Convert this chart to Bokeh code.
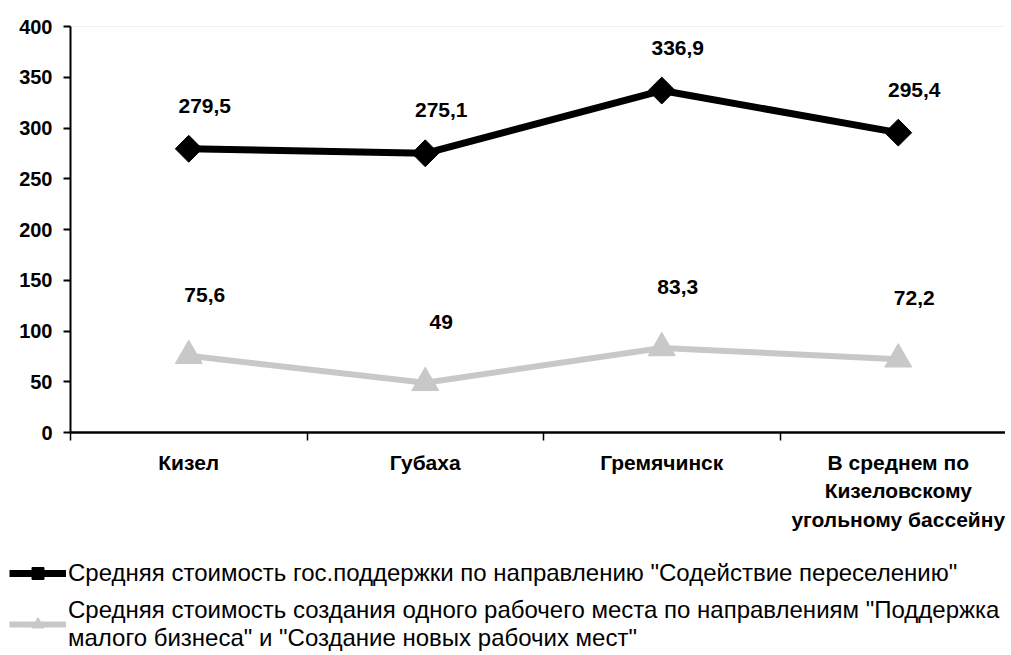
import math
from bokeh.plotting import figure
from bokeh.models import FixedTicker, Legend, LegendItem, ColumnDataSource, Range1d, BoxAnnotation
from bokeh.core.properties import value
from bokeh.embed import file_html
from bokeh.resources import INLINE

categories = ["Кизел", "Губаха", "Гремячинск", "В среднем по\nКизеловскому\nугольному бассейну"]
resettlement = [279.5, 275.1, 336.9, 295.4]
jobs = [75.6, 49.0, 83.3, 72.2]
series_names = [
    'Средняя стоимость гос.поддержки по направлению "Содействие переселению"',
    'Средняя стоимость создания одного рабочего места по направлениям "Поддержка\nмалого бизнеса" и "Создание новых рабочих мест"',
]
y_ticks = [0, 50, 100, 150, 200, 250, 300, 350, 400]
y_max = 400

xs = [i + 0.5 for i in range(len(categories))]
bounds = list(range(len(categories) + 1))


def fmt(v):
    return f"{v:g}".replace(".", ",")


FONT = "Liberation Sans"
BLACK = "#000000"
GRAY = "#c8c8c8"

# canvas / plot-area geometry in pixels
W, H = 1005, 653
AX_LEFT, AX_TOP, AX_BOTTOM = 70, 26, 432
CAT_W = 236.5
py = (AX_BOTTOM - AX_TOP) / y_max          # px per unit
x0 = -AX_LEFT / CAT_W
x1 = (W - AX_LEFT) / CAT_W
y1 = y_max + AX_TOP / py
y0 = -(H - AX_BOTTOM) / py

p = figure(width=W, height=H, x_range=Range1d(x0, x1), y_range=Range1d(y0, y1),
           output_backend="svg", toolbar_location=None,
           min_border_left=0, min_border_top=0, min_border_right=0, min_border_bottom=0)
p.outline_line_color = None
p.background_fill_color = "white"
p.border_fill_color = "white"
p.xgrid.visible = False
p.ygrid.visible = False

# light top border of the plot area
p.add_layout(BoxAnnotation(left=0, right=x1 + 1, bottom=0, top=y_max, fill_alpha=0,
                           line_color="#d4d4d4", line_width=1, level="underlay"))

# y axis
p.yaxis.fixed_location = 0
p.yaxis.bounds = (0, y_max)
p.yaxis.ticker = FixedTicker(ticks=y_ticks)
p.yaxis.axis_line_width = 2
p.yaxis.axis_line_color = BLACK
p.yaxis.major_tick_line_width = 2
p.yaxis.major_tick_in = 0
p.yaxis.major_tick_out = 7
p.yaxis.minor_tick_line_color = None
p.yaxis.major_label_text_font = FONT
p.yaxis.major_label_text_font_style = "bold"
p.yaxis.major_label_text_font_size = "20px"
p.yaxis.major_label_text_color = BLACK
p.yaxis.major_label_standoff = 11

# x axis
p.xaxis.fixed_location = 0
p.xaxis.bounds = (0, x1 + 1)
p.xaxis.ticker = FixedTicker(ticks=xs, minor_ticks=bounds)
p.xaxis.major_label_overrides = {x: c for x, c in zip(xs, categories)}
p.xaxis.axis_line_width = 2.5
p.xaxis.axis_line_color = BLACK
p.xaxis.major_tick_line_color = None
p.xaxis.major_tick_in = 0
p.xaxis.major_tick_out = 0
p.xaxis.minor_tick_line_color = BLACK
p.xaxis.minor_tick_line_width = 1.5
p.xaxis.minor_tick_in = 0
p.xaxis.minor_tick_out = 8
p.xaxis.major_label_text_font = FONT
p.xaxis.major_label_text_font_style = "bold"
p.xaxis.major_label_text_font_size = "21px"
p.xaxis.major_label_text_color = BLACK
p.xaxis.major_label_text_line_height = 1.25
p.xaxis.major_label_standoff = 10

src1 = ColumnDataSource(dict(x=xs, y=resettlement, t=[fmt(v) for v in resettlement]))
src2 = ColumnDataSource(dict(x=xs, y=jobs, t=[fmt(v) for v in jobs]))

l1 = p.line("x", "y", source=src1, line_color=BLACK, line_width=7)
m1 = p.scatter("x", "y", source=src1, marker="square", angle=math.pi / 4, size=19,
               fill_color=BLACK, line_color=BLACK)
l2 = p.line("x", "y", source=src2, line_color=GRAY, line_width=6)
m2 = p.scatter("x", "y", source=src2, marker="triangle", size=27,
               fill_color=GRAY, line_color=GRAY)

p.text("x", "y", text="t", source=src1, x_offset=16, y_offset=-43,
       text_align="center", text_baseline="middle",
       text_font=value(FONT), text_font_style="bold", text_font_size="21px", text_color=BLACK)
p.text("x", "y", text="t", source=src2, x_offset=16, y_offset=-61,
       text_align="center", text_baseline="middle",
       text_font=value(FONT), text_font_style="bold", text_font_size="21px", text_color=BLACK)

legend = Legend(items=[LegendItem(label=series_names[0], renderers=[l1, m1]),
                       LegendItem(label=series_names[1], renderers=[l2, m2])],
                location=(9, 1), orientation="vertical",
                border_line_color=None, background_fill_alpha=0,
                padding=0, margin=0, spacing=8,
                glyph_width=57, glyph_height=30, label_standoff=2,
                label_text_font=FONT, label_text_font_size="24px",
                label_text_baseline="top",
                label_text_color=BLACK, label_text_line_height=0.95)
p.add_layout(legend, "center")

open("out.html", "w").write(file_html(p, INLINE))
